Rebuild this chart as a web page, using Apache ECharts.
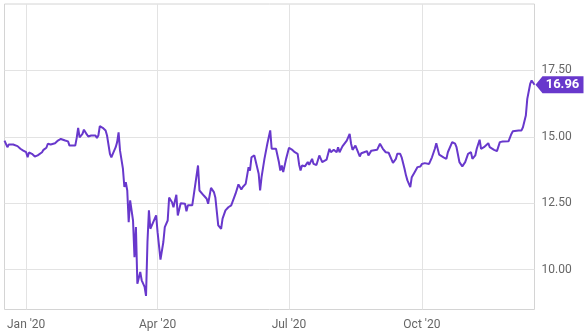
<!DOCTYPE html>
<html>
<head>
<meta charset="utf-8">
<script src="https://cdn.jsdelivr.net/npm/echarts@6/dist/echarts.min.js"></script>
<style>
html,body{margin:0;padding:0;background:#fff;}
#chart{width:588px;height:331px;}
</style>
</head>
<body>
<div id="chart"></div>
<script>
const dates = ['2019-12-17','2019-12-19','2019-12-20','2019-12-23','2019-12-26','2019-12-28','2019-12-30','2020-01-01','2020-01-02','2020-01-03','2020-01-05','2020-01-07','2020-01-08','2020-01-09','2020-01-10','2020-01-12','2020-01-13','2020-01-15','2020-01-16','2020-01-18','2020-01-19','2020-01-21','2020-01-22','2020-01-23','2020-01-25','2020-01-26','2020-01-28','2020-01-30','2020-01-31','2020-02-02','2020-02-04','2020-02-05','2020-02-06','2020-02-07','2020-02-09','2020-02-10','2020-02-12','2020-02-13','2020-02-15','2020-02-18','2020-02-19','2020-02-20','2020-02-21','2020-02-23','2020-02-25','2020-02-26','2020-02-27','2020-02-28','2020-02-29','2020-03-01','2020-03-03','2020-03-04','2020-03-05','2020-03-06','2020-03-08','2020-03-09','2020-03-10','2020-03-11','2020-03-12','2020-03-13','2020-03-15','2020-03-16','2020-03-17','2020-03-18','2020-03-20','2020-03-21','2020-03-23','2020-03-24','2020-03-25','2020-03-26','2020-03-27','2020-03-29','2020-03-31','2020-04-01','2020-04-02','2020-04-03','2020-04-05','2020-04-06','2020-04-08','2020-04-09','2020-04-11','2020-04-12','2020-04-14','2020-04-15','2020-04-17','2020-04-20','2020-04-21','2020-04-22','2020-04-23','2020-04-25','2020-04-26','2020-04-29','2020-04-30','2020-05-03','2020-05-05','2020-05-06','2020-05-08','2020-05-10','2020-05-11','2020-05-13','2020-05-15','2020-05-16','2020-05-18','2020-05-19','2020-05-20','2020-05-22','2020-05-25','2020-05-27','2020-05-29','2020-05-30','2020-06-01','2020-06-03','2020-06-04','2020-06-05','2020-06-07','2020-06-08','2020-06-10','2020-06-11','2020-06-12','2020-06-14','2020-06-16','2020-06-17','2020-06-18','2020-06-19','2020-06-22','2020-06-24','2020-06-25','2020-06-26','2020-06-27','2020-06-29','2020-07-01','2020-07-03','2020-07-05','2020-07-07','2020-07-08','2020-07-09','2020-07-10','2020-07-12','2020-07-13','2020-07-14','2020-07-15','2020-07-17','2020-07-18','2020-07-20','2020-07-22','2020-07-24','2020-07-27','2020-07-29','2020-07-30','2020-08-01','2020-08-03','2020-08-04','2020-08-05','2020-08-07','2020-08-10','2020-08-12','2020-08-13','2020-08-14','2020-08-16','2020-08-19','2020-08-20','2020-08-22','2020-08-24','2020-08-25','2020-08-27','2020-08-31','2020-09-01','2020-09-02','2020-09-04','2020-09-06','2020-09-08','2020-09-09','2020-09-11','2020-09-13','2020-09-14','2020-09-16','2020-09-17','2020-09-19','2020-09-20','2020-09-21','2020-09-22','2020-09-23','2020-09-24','2020-09-26','2020-09-28','2020-09-30','2020-10-01','2020-10-03','2020-10-04','2020-10-06','2020-10-08','2020-10-10','2020-10-11','2020-10-13','2020-10-14','2020-10-16','2020-10-18','2020-10-19','2020-10-20','2020-10-22','2020-10-24','2020-10-25','2020-10-27','2020-10-28','2020-10-29','2020-10-31','2020-11-02','2020-11-04','2020-11-05','2020-11-07','2020-11-08','2020-11-10','2020-11-11','2020-11-13','2020-11-16','2020-11-17','2020-11-18','2020-11-20','2020-11-22','2020-11-24','2020-11-26','2020-11-30','2020-12-01','2020-12-02','2020-12-03','2020-12-07','2020-12-09','2020-12-10','2020-12-12','2020-12-13','2020-12-15','2020-12-16','2020-12-18'];

const values = [14.86,14.61,14.71,14.71,14.65,14.55,14.48,14.42,14.23,14.41,
14.36,14.26,14.33,14.30,14.30,14.42,14.51,14.59,14.74,14.71,
14.74,14.76,14.77,14.86,14.92,14.86,14.86,14.83,14.67,14.67,
14.67,14.96,15.34,14.98,15.11,15.27,15.09,15.01,15.05,15.05,
14.96,15.05,15.40,15.34,15.24,15.05,15.01,14.36,14.23,14.36,
14.61,14.80,15.17,14.48,13.80,13.11,13.29,12.98,11.79,12.61,
11.85,10.47,11.60,9.47,9.91,9.60,9.35,9.01,11.04,12.23,
11.54,11.79,12.04,11.41,11.35,10.38,11.04,11.60,11.85,12.71,
12.54,12.35,12.82,12.04,12.50,12.48,12.20,12.42,12.35,12.42,
12.79,13.92,12.98,12.79,12.67,12.48,13.08,12.92,12.72,11.67,
11.54,11.92,12.23,12.17,12.35,12.42,12.86,13.21,13.02,13.11,
13.23,13.86,13.73,14.23,14.30,14.30,13.61,12.98,13.48,14.17,
14.74,14.80,15.24,14.55,14.55,14.05,13.73,13.92,13.67,14.17,
14.59,14.52,14.42,14.36,13.96,13.73,13.92,13.89,13.86,14.05,
13.95,14.17,13.98,13.94,14.30,14.05,14.14,14.55,14.42,14.51,
14.42,14.61,14.42,14.64,14.86,15.11,14.74,14.51,14.67,14.26,
14.38,14.42,14.46,14.30,14.48,14.51,14.51,14.74,14.55,14.42,
14.40,14.46,14.02,14.17,14.36,14.36,14.23,13.80,13.55,13.36,
13.42,13.11,13.48,13.67,13.86,13.88,13.98,14.01,14.05,13.98,
14.23,14.55,14.76,14.33,14.30,14.23,14.17,14.42,14.42,14.80,
14.74,14.61,14.05,13.98,13.89,14.05,14.36,14.42,14.17,14.30,
14.55,14.89,14.55,14.61,14.76,14.61,14.67,14.51,14.46,14.80,
14.82,14.83,14.86,15.11,15.21,15.24,15.24,15.36,15.80,16.43,16.99,17.12,16.96];

const xTickDates = ['2020-01-01','2020-04-01','2020-07-01','2020-10-01'];
const xTickLabels = ["Jan '20","Apr '20","Jul '20","Oct '20"];
const yTicks = [10, 12.5, 15, 17.5];
const lastLabel = '16.96';

function toTime(s){ const p = s.split('-').map(Number); return Date.UTC(p[0], p[1]-1, p[2]); }
const xTickTimes = xTickDates.map(toTime);
const seriesData = dates.map((d,i)=>[toTime(d), values[i]]);
const lastPoint = seriesData[seriesData.length-1];

const purple = '#6838CC';
const chart = echarts.init(document.getElementById('chart'), null, {renderer:'canvas'});
chart.setOption({
  animation:false,
  backgroundColor:'#ffffff',
  grid:{left:4.5, right:53.5, top:4, bottom:21.5, show:true, borderColor:'#d4d4d4', borderWidth:1, containLabel:false},
  xAxis:{
    type:'value',
    min: seriesData[0][0],
    max: lastPoint[0],
    axisLine:{show:false},
    axisTick:{show:false, customValues:xTickTimes},
    axisLabel:{
      customValues:xTickTimes,
      color:'#666', fontSize:12, fontFamily:'Roboto', margin:9,
      formatter:function(v){
        let best = -1, bd = Infinity;
        xTickTimes.forEach((t,i)=>{ const d = Math.abs(t - v); if (d < bd){ bd = d; best = i; } });
        return bd < 86400000 ? xTickLabels[best] : '';
      }
    },
    splitLine:{show:true, lineStyle:{color:'#e3e3e3', width:1}}
  },
  yAxis:{
    type:'value',
    position:'right',
    min:8.5, max:20,
    axisLine:{show:false},
    axisTick:{show:false, customValues:yTicks},
    axisLabel:{customValues:yTicks, color:'#666', fontSize:12, fontFamily:'Roboto', margin:7,
      formatter:function(v){ return Number(v).toFixed(2); }},
    splitLine:{show:true, lineStyle:{color:'#e3e3e3', width:1}}
  },
  series:[{
    type:'line',
    data:seriesData,
    showSymbol:false,
    symbol:'none',
    clip:false,
    lineStyle:{color:purple, width:2},
    markPoint:{
      silent:true,
      symbol:'path://M0,8.5 L7,0 L48,0 L48,17 L7,17 Z',
      symbolSize:[48,17],
      symbolOffset:[25,0],
      symbolKeepAspect:false,
      itemStyle:{color:purple},
      label:{show:true, formatter:lastLabel, color:'#fff', fontWeight:'bold', fontSize:13, fontFamily:'Roboto', offset:[3,0], position:'inside'},
      data:[{coord:lastPoint}]
    }
  }]
});
</script>
</body>
</html>
